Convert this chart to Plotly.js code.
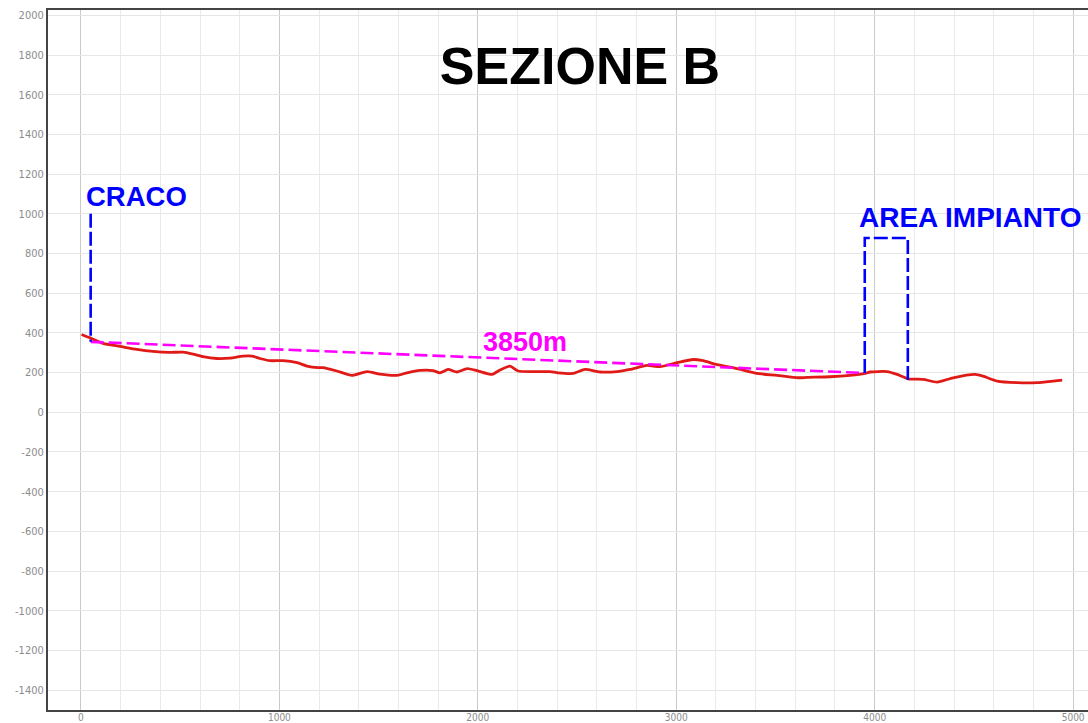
<!DOCTYPE html>
<html>
<head>
<meta charset="utf-8">
<script src="https://cdn.plot.ly/plotly-3.0.1.min.js"></script>
<style>
  html, body { margin: 0; padding: 0; background: #ffffff; }
  #chart { width: 1088px; height: 723px; }
</style>
</head>
<body>
<div id="chart"></div>
<script>
// Elevation profile (distance in m, elevation in m)
const distance = [3, 45, 111, 197, 282, 363, 449, 514, 565, 615, 685, 751, 817, 862, 902, 953, 1018, 1089, 1139, 1195, 1220, 1290, 1366, 1442, 1507, 1593, 1643, 1709, 1774, 1809, 1850, 1895, 1946, 1996, 2072, 2112, 2162, 2203, 2298, 2364, 2404, 2480, 2540, 2616, 2702, 2767, 2853, 2918, 3004, 3085, 3135, 3206, 3306, 3407, 3508, 3614, 3659, 3775, 3876, 3952, 3977, 4062, 4113, 4168, 4244, 4315, 4395, 4506, 4546, 4617, 4718, 4818, 4899, 4945];
const elevation = [392, 375, 347, 332, 317, 307, 302, 303, 293, 280, 271, 273, 283, 283, 271, 260, 260, 250, 233, 225, 225, 208, 186, 205, 192, 186, 199, 211, 210, 199, 216, 203, 220, 210, 191, 213, 233, 208, 205, 205, 199, 196, 216, 203, 205, 216, 236, 230, 250, 266, 260, 240, 220, 196, 186, 174, 176, 179, 186, 196, 203, 205, 191, 169, 166, 152, 174, 191, 182, 157, 149, 149, 157, 162];

// Marker for CRACO (vertical dashed blue)
const cracoX = [49, 49];
const cracoY = [1000, 355];

// Distance line CRACO -> AREA IMPIANTO (dashed magenta)
const distX = [49, 3950];
const distY = [355, 198];

// AREA IMPIANTO bracket (dashed blue)
const areaX = [3950, 3950, 4167, 4167];
const areaY = [198, 878, 878, 162];

// Tick values
const xTicks = [0, 1000, 2000, 3000, 4000, 5000];
const yTicks = [2000, 1800, 1600, 1400, 1200, 1000, 800, 600, 400, 200, 0, -200, -400, -600, -800, -1000, -1200, -1400];

// Text labels
const titleText = 'SEZIONE B';
const cracoLabel = 'CRACO';
const areaLabel = 'AREA IMPIANTO';
const distLabel = '3850m';

const traces = [
  {
    x: distance, y: elevation, type: 'scatter', mode: 'lines',
    line: { color: '#e01a16', width: 2.8, shape: 'spline', smoothing: 0.6 },
    hoverinfo: 'skip', showlegend: false
  },
  {
    x: distX, y: distY, type: 'scatter', mode: 'lines',
    line: { color: '#ff00ff', width: 2.6, dash: '13px,5px' },
    hoverinfo: 'skip', showlegend: false
  },
  {
    x: cracoX, y: cracoY, type: 'scatter', mode: 'lines',
    line: { color: '#0000ff', width: 2.6, dash: '14px,4px' },
    hoverinfo: 'skip', showlegend: false
  },
  {
    x: areaX, y: areaY, type: 'scatter', mode: 'lines',
    line: { color: '#0000ff', width: 2.6, dash: '14px,4px' },
    hoverinfo: 'skip', showlegend: false
  }
];

const tickFont = { family: 'DejaVu Sans Condensed, DejaVu Sans, sans-serif', size: 11, color: '#8c8c8c' };

const layout = {
  width: 1088, height: 723,
  margin: { l: 48, r: 0, t: 10, b: 13, pad: 0 },
  paper_bgcolor: '#ffffff', plot_bgcolor: '#ffffff',
  showlegend: false,
  title: {
    text: '<b>' + titleText + '</b>',
    x: 580 / 1088, xanchor: 'center', xref: 'container',
    y: 1 - 66 / 723, yanchor: 'middle', yref: 'container',
    font: { family: 'Liberation Sans, Arial, sans-serif', size: 52, color: '#000000' }
  },
  xaxis: {
    range: [-166, 5075],
    tickvals: xTicks, ticktext: xTicks.map(String),
    showgrid: true, gridcolor: '#cacaca', gridwidth: 1,
    minor: { dtick: 200, tick0: 0, showgrid: true, gridcolor: '#eaeaea', gridwidth: 1 },
    zeroline: false,
    showline: true, linecolor: '#444444', linewidth: 2, mirror: true,
    ticks: '', ticklabelstandoff: -3, tickfont: { family: tickFont.family, size: 10, color: tickFont.color },
    fixedrange: true
  },
  yaxis: {
    range: [-1500, 2027],
    tickvals: yTicks, ticktext: yTicks.map(String),
    showgrid: true, gridcolor: '#e6e6e6', gridwidth: 1,
    zeroline: false,
    showline: true, linecolor: '#444444', linewidth: 2, mirror: false,
    ticks: '', tickfont: tickFont, fixedrange: true
  },
  annotations: [
    {
      x: 49, y: 1000, xref: 'x', yref: 'y', text: '<b>' + cracoLabel + '</b>',
      showarrow: false, xanchor: 'left', yanchor: 'bottom', xshift: -7, yshift: 0,
      font: { family: 'Liberation Sans, Arial, sans-serif', size: 27.5, color: '#0000ff' }
    },
    {
      x: 3950, y: 878, xref: 'x', yref: 'y', text: '<b>' + areaLabel + '</b>',
      showarrow: false, xanchor: 'left', yanchor: 'bottom', xshift: -8, yshift: 3,
      font: { family: 'Liberation Sans, Arial, sans-serif', size: 28, color: '#0000ff' }
    },
    {
      x: 2010, y: 300, xref: 'x', yref: 'y', text: '<b>' + distLabel + '</b>',
      showarrow: false, xanchor: 'left', yanchor: 'bottom', xshift: 1, yshift: -6,
      font: { family: 'Liberation Sans, Arial, sans-serif', size: 27, color: '#ff00ff' }
    }
  ]
};

Plotly.newPlot('chart', traces, layout, { displayModeBar: false, staticPlot: true });
</script>
</body>
</html>
